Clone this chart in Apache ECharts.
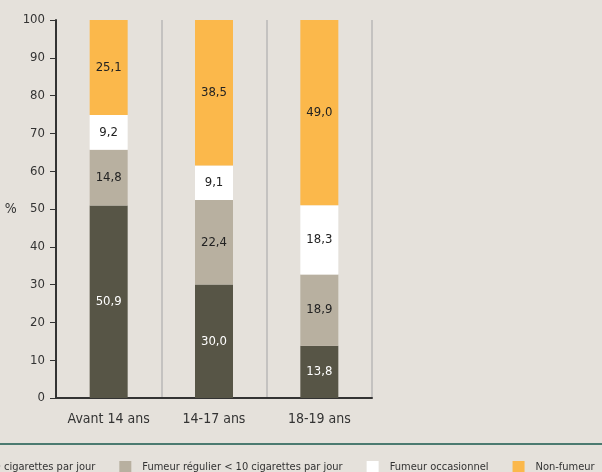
<!DOCTYPE html>
<html>
<head>
<meta charset="utf-8">
<script src="https://cdn.jsdelivr.net/npm/echarts@6/dist/echarts.min.js"></script>
<style>
  html, body { margin: 0; padding: 0; background: #e5e1db; }
  #main { width: 602px; height: 472px; }
</style>
</head>
<body>
<div id="main"></div>
<script>
// data
const categories = ["Avant 14 ans", "14-17 ans", "18-19 ans"];
const seriesNames = [
  "Fumeur régulier ≥ 10 cigarettes par jour",
  "Fumeur régulier < 10 cigarettes par jour",
  "Fumeur occasionnel",
  "Non-fumeur"
];
const regularHigh = [50.9, 30.0, 13.8];
const regularLow = [14.8, 22.4, 18.9];
const occasional = [9.2, 9.1, 18.3];
const nonSmoker = [25.1, 38.5, 49.0];
const colors = ["#575546", "#b8b0a0", "#ffffff", "#fbb84b"];
const labelColors = ["#ffffff", "#222222", "#222222", "#222222"];

const font = "'DejaVu Sans Condensed', 'Liberation Sans Narrow', sans-serif";

var myChart = echarts.init(document.getElementById("main"));

const values = [regularHigh, regularLow, occasional, nonSmoker];
const series = values.map((data, i) => ({
  name: seriesNames[i],
  type: "bar",
  stack: "total",
  barWidth: 38,
  data: data,
  itemStyle: { color: colors[i] },
  label: {
    show: true,
    color: labelColors[i],
    fontFamily: font,
    fontSize: 13,
    formatter: (p) => p.value.toFixed(1).replace(".", ",")
  },
  animation: false
}));

let option = {
  backgroundColor: "#e5e1db",
  grid: { left: 56, right: 230, top: 20, bottom: 74 },
  xAxis: {
    type: "category",
    data: categories,
    axisLine: { lineStyle: { color: "#333", width: 2 } },
    axisTick: { show: false },
    axisLabel: { interval: 0, color: "#333", fontFamily: font, fontSize: 14, margin: 14 },
    splitLine: { show: true, interval: 0, lineStyle: { color: "#c4c2c0", width: 2 } }
  },
  yAxis: {
    type: "value",
    min: 0,
    max: 100,
    interval: 10,
    name: "%",
    nameLocation: "middle",
    nameRotate: 0,
    nameGap: 45,
    nameTextStyle: { color: "#333", fontFamily: font, fontSize: 14, align: "left" },
    axisLine: { show: true, lineStyle: { color: "#333", width: 2 } },
    axisTick: { show: true, length: 6, lineStyle: { color: "#333" } },
    axisLabel: { color: "#333", fontFamily: font, fontSize: 13, margin: 11 },
    splitLine: { show: false }
  },
  legend: {
    left: -133,
    top: 456,
    width: 1200,
    itemWidth: 12,
    itemHeight: 12,
    itemGap: 24,
    icon: "rect",
    textStyle: { color: "#333", fontFamily: font, fontSize: 11, padding: [0, 0, 0, 6] },
    data: seriesNames
  },
  graphic: [
    {
      type: "rect",
      left: 0,
      top: 443,
      shape: { width: 602, height: 2 },
      style: { fill: "#4b7a70" },
      silent: true
    }
  ],
  series: series
};

myChart.setOption(option);
</script>
</body>
</html>
